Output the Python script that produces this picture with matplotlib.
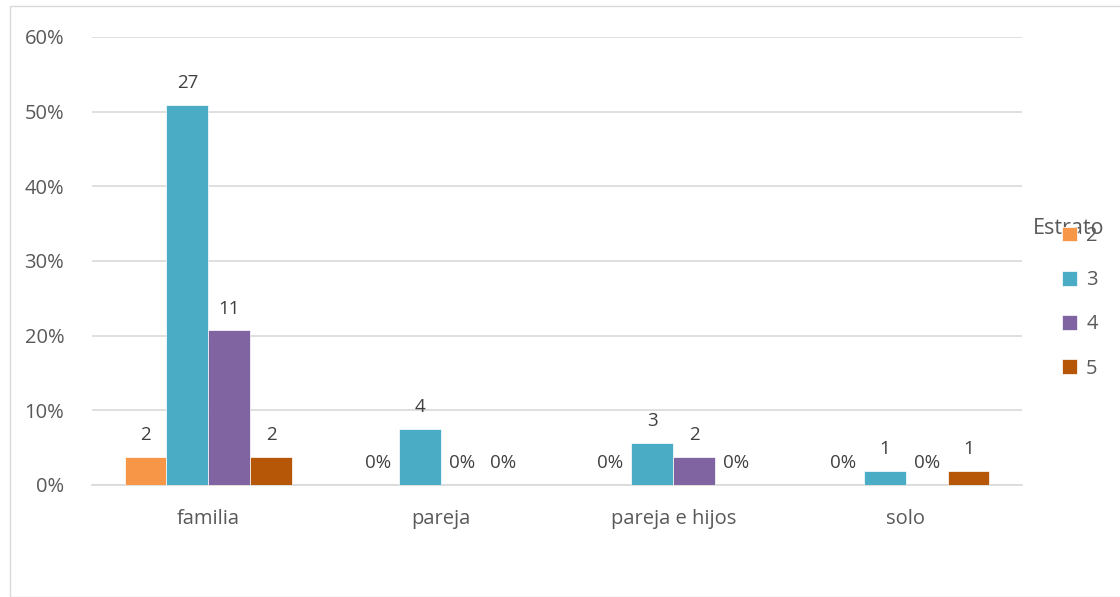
import matplotlib
matplotlib.use("Agg")
import matplotlib.pyplot as plt
from matplotlib.patches import Rectangle
import numpy as np

categories = ["familia", "pareja", "pareja e hijos", "solo"]
series_names = ["2", "3", "4", "5"]
counts = {
    "2": [2, 0, 0, 0],
    "3": [27, 4, 3, 1],
    "4": [11, 0, 2, 0],
    "5": [2, 0, 0, 1],
}
total = 53
colors = ["#F79646", "#4BACC6", "#8064A2", "#B65708"]
yticks = [0, 0.1, 0.2, 0.3, 0.4, 0.5, 0.6]

plt.rcParams['font.family'] = ['Open Sans', 'DejaVu Sans']
txt = "#595959"

fig = plt.figure(figsize=(11.2, 5.97), dpi=100)
fig.patches.append(Rectangle((10/1120, 0), 1.2, 1 - 6/597, transform=fig.transFigure,
                             fill=False, edgecolor="#D9D9D9", lw=1))
ax = fig.add_axes([92/1120, 1 - 485/597, 930/1120, 448/597])

x = np.arange(len(categories))
bw = 0.18
for i, (name, c) in enumerate(zip(series_names, colors)):
    vals = np.array(counts[name]) / total
    pos = x + (i - 1.5) * bw
    ax.bar(pos, vals, width=bw, color=c, edgecolor="white", linewidth=0.5,
           label=name, zorder=3)
    for p, v, n in zip(pos, vals, counts[name]):
        lab = str(n) if n > 0 else "0%"
        ax.annotate(lab, (p, v), xytext=(0, 9), textcoords="offset points",
                    ha="center", va="bottom", fontsize=13.5, color="#404040")

ax.set_xlim(-0.5, 3.5)
ax.set_ylim(0, 0.6)
ax.set_yticks(yticks)
ax.set_yticklabels([f"{int(round(t*100))}%" for t in yticks])
ax.set_xticks(x)
ax.set_xticklabels(categories)
ax.yaxis.grid(True, color="#D9D9D9", lw=1.2, zorder=0)
for s in ["top", "right", "left"]:
    ax.spines[s].set_visible(False)
ax.spines["bottom"].set_color("#D9D9D9")
ax.spines["bottom"].set_linewidth(1.2)
ax.tick_params(axis="both", length=0, labelsize=14.5, colors=txt)
ax.tick_params(axis="y", pad=20)
ax.tick_params(axis="x", pad=17)

leg = fig.legend(loc="upper left", bbox_to_anchor=(1062/1120, 1 - 226/597),
                 frameon=False, fontsize=14.5,
                 handlelength=0.75, handleheight=0.75, labelspacing=1.2,
                 handletextpad=0.45, borderpad=0, borderaxespad=0)
for t in leg.get_texts():
    t.set_color(txt)
fig.text(1069/1120, 1 - 228/597, "Estrato", ha="center", va="center",
         fontsize=15.5, color=txt)

fig.savefig("out.png", dpi=100)
